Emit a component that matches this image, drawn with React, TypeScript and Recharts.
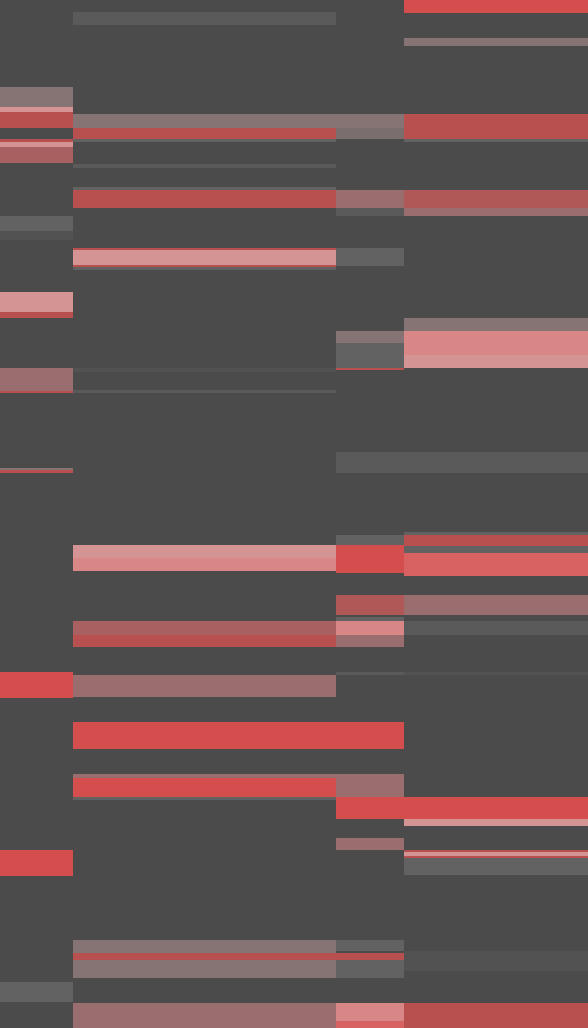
import React from 'react';
import { ComposedChart, XAxis, YAxis, ReferenceArea } from 'recharts';

// column boundaries along the x value axis
const columnEdges = [0, 73, 336, 404, 588];

// band tone -> fill
const tones: Record<string, string> = {
  hot: '#d44e4e',
  red: '#b95050',
  brick: '#b05858',
  muted: '#a86060',
  rose: '#9a6e6e',
  mauve: '#867474',
  dusk: '#7a6e6e',
  pink: '#d49494',
  blush: '#d88686',
  coral: '#d86262',
  gray: '#626262',
  slate: '#5a5a5a',
  dim: '#525252',
};

type Band = [number, number, string];

const column0: Band[] = [
  [87, 107, 'mauve'], [107, 112, 'pink'], [112, 128, 'red'],
  [139, 142, 'red'], [142, 147, 'pink'], [147, 163, 'muted'],
  [216, 231, 'gray'], [231, 240, 'dim'],
  [292, 312, 'pink'], [312, 318, 'red'],
  [368, 391, 'rose'], [391, 393, 'red'],
  [468, 470, 'mauve'], [470, 473, 'red'],
  [672, 698, 'hot'], [850, 876, 'hot'], [982, 1002, 'gray'],
];

const column1: Band[] = [
  [12, 25, 'slate'], [114, 128, 'mauve'], [128, 139, 'red'], [139, 142, 'gray'],
  [164, 168, 'slate'], [187, 190, 'gray'], [190, 208, 'red'],
  [248, 250, 'red'], [250, 265, 'pink'], [265, 267, 'red'], [267, 270, 'gray'],
  [368, 372, 'dim'], [390, 393, 'slate'],
  [545, 558, 'pink'], [558, 571, 'blush'],
  [621, 635, 'muted'], [635, 647, 'red'], [675, 697, 'rose'],
  [722, 749, 'hot'], [774, 778, 'rose'], [778, 797, 'hot'], [797, 800, 'gray'],
  [940, 953, 'mauve'], [953, 960, 'red'], [960, 978, 'mauve'], [1003, 1028, 'rose'],
];

const column2: Band[] = [
  [114, 128, 'mauve'], [128, 139, 'dusk'], [190, 208, 'rose'], [208, 216, 'slate'],
  [248, 266, 'gray'], [331, 343, 'mauve'], [343, 368, 'gray'], [368, 370, 'red'],
  [452, 473, 'slate'], [535, 545, 'gray'], [545, 573, 'hot'],
  [595, 615, 'brick'], [617, 621, 'gray'], [621, 635, 'blush'], [635, 647, 'rose'],
  [672, 675, 'slate'], [722, 749, 'hot'], [774, 797, 'rose'], [797, 819, 'hot'],
  [838, 850, 'rose'], [940, 951, 'gray'], [953, 960, 'red'], [960, 978, 'gray'],
  [1003, 1021, 'blush'], [1021, 1028, 'coral'],
];

const column3: Band[] = [
  [0, 13, 'hot'], [38, 46, 'mauve'], [114, 139, 'red'], [139, 142, 'gray'],
  [190, 208, 'brick'], [208, 216, 'rose'],
  [318, 331, 'mauve'], [331, 345, 'blush'], [345, 355, 'blush'], [355, 368, 'pink'],
  [452, 473, 'slate'], [532, 535, 'gray'], [535, 546, 'red'], [546, 553, 'gray'],
  [553, 576, 'coral'], [595, 615, 'rose'], [621, 635, 'slate'], [672, 675, 'dim'],
  [797, 819, 'hot'], [819, 826, 'pink'],
  [850, 852, 'red'], [852, 856, 'pink'], [856, 858, 'red'], [858, 875, 'gray'],
  [951, 971, 'dim'], [1003, 1028, 'red'],
];

const columns = [column0, column1, column2, column3];

const App: React.FC = () => {
  return (
    <div style={{ position: 'absolute', left: 0, top: 0, width: 588, height: 1028, background: '#4b4b4b' }}>
      <ComposedChart width={588} height={1028} margin={{ top: 0, right: 0, bottom: 0, left: 0 }}>
        <XAxis type="number" dataKey="x" domain={[0, 588]} allowDataOverflow hide />
        <YAxis type="number" dataKey="y" domain={[0, 1028]} allowDataOverflow reversed hide />
        {columns.map((bands, ci) =>
          bands.map(([from, to, tone], bi) => (
            <ReferenceArea
              key={`${ci}-${bi}`}
              x1={columnEdges[ci]}
              x2={columnEdges[ci + 1]}
              y1={from}
              y2={to}
              fill={tones[tone]}
              fillOpacity={1}
              stroke="none"
              ifOverflow="visible"
            />
          ))
        )}
      </ComposedChart>
    </div>
  );
};

export default App;
